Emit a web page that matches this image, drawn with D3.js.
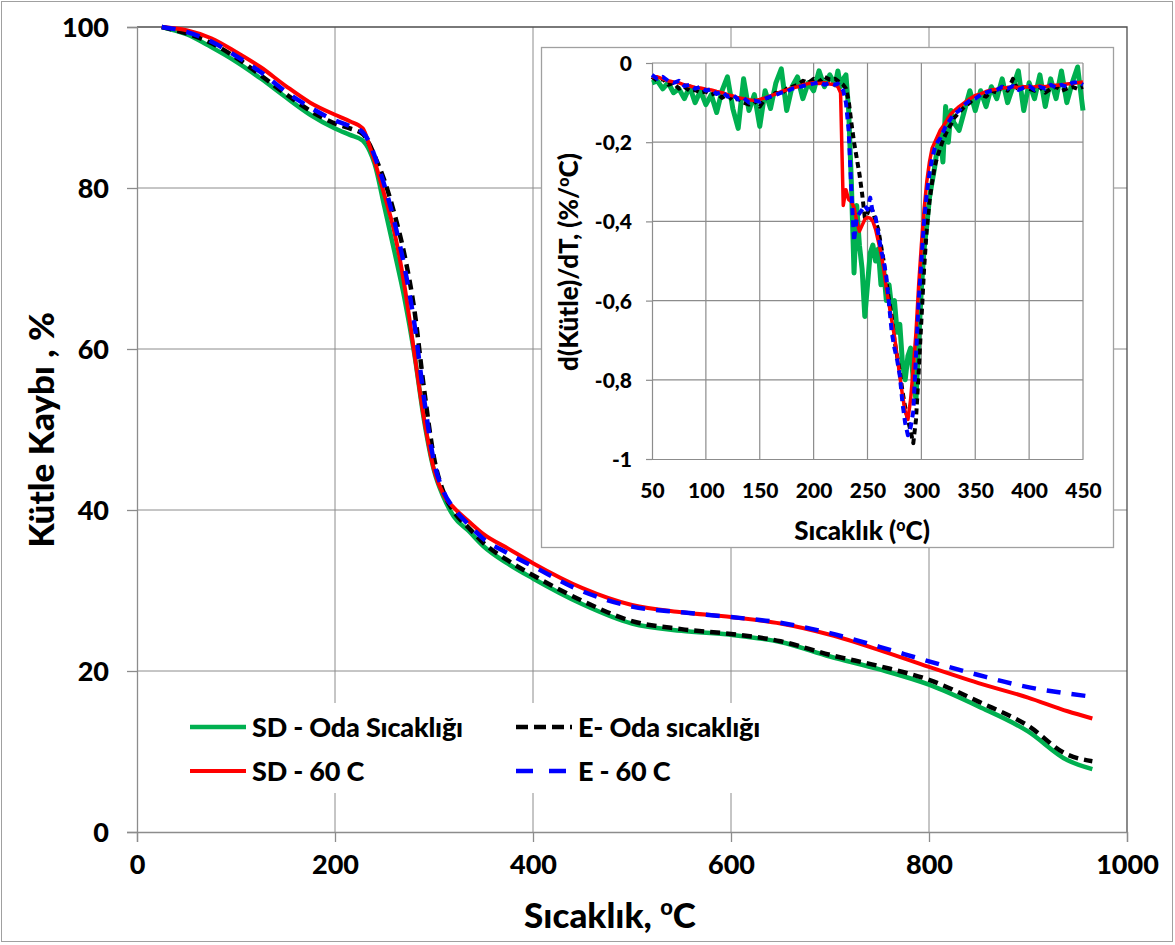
<!DOCTYPE html>
<html>
<head>
<meta charset="utf-8">
<script src="https://cdn.jsdelivr.net/npm/d3@7"></script>
<style>
  body { margin: 0; background: #fff; }
  text { font-family: Lato, "Open Sans", sans-serif; font-weight: 900; fill: #000; }
</style>
</head>
<body>
<svg id="chart" width="1175" height="945"></svg>
<script>
// ---- main chart data (temperature, mass %) ----
const mainTemps = [25, 50, 75, 100, 125, 150, 175, 200, 215, 228, 235, 240, 250, 260, 270, 280, 290, 300,
    310, 320, 335, 350, 375, 400, 450, 500, 550, 600, 650, 700, 750, 800, 850, 900, 940, 965];
const mainSdOda = [100, 99.1, 97.5, 95.7, 93.6, 91.3, 89.1, 87.4, 86.6, 85.9, 84.6, 83.0, 77.6, 72.1, 66.4, 59.5, 51.1, 44.9,
    41.5, 39.2, 37.4, 35.5, 33.3, 31.5, 28.3, 25.9, 25.0, 24.5, 23.6, 21.8, 20.2, 18.3, 15.6, 12.5, 8.9, 7.8];
const mainEOda = [100, 99.2, 98.0, 96.2, 94.0, 91.7, 89.6, 88.0, 87.4, 86.7, 85.4, 84.0, 80.9, 76.8, 71.8, 65.0, 55.0, 46.5,
    42.1, 39.8, 37.8, 35.9, 33.7, 31.9, 28.7, 26.2, 25.2, 24.6, 23.7, 22.0, 20.6, 18.9, 16.2, 13.2, 9.6, 8.8];
const mainSd60 = [100, 99.6, 98.6, 96.9, 95.0, 92.7, 90.6, 89.1, 88.3, 87.4, 85.2, 83.3, 79.1, 74.5, 68.0, 59.6, 51.3, 45.0,
    41.8, 40.3, 38.6, 37.0, 35.2, 33.4, 30.3, 28.2, 27.3, 26.7, 25.9, 24.5, 22.6, 20.5, 18.5, 16.7, 15.0, 14.1];
const mainE60 = [100, 99.4, 98.2, 96.4, 94.4, 92.0, 90.0, 88.4, 87.7, 86.9, 85.6, 84.0, 80.3, 75.8, 70.3, 63.3, 53.8, 46.0,
    42.2, 40.2, 38.2, 36.4, 34.6, 33.0, 29.9, 28.0, 27.3, 26.7, 26.0, 24.7, 23.0, 21.2, 19.5, 18.0, 17.2, 16.8];
const mainXTicks = [0, 200, 400, 600, 800, 1000];
const mainYTicks = [0, 20, 40, 60, 80, 100];

// ---- inset data (temperature, d(mass)/dT) ----
const insetTemps = [
    50, 55, 60, 65, 70, 75, 80, 85, 90, 95, 100, 105, 110, 115, 120, 125, 130, 135, 140, 145, 150, 155, 160, 165, 170,
    175, 180, 185, 190, 195, 200, 205, 210, 215, 220,
    222.5, 225, 227.5, 230, 232.5, 235, 237.5, 240, 242.5, 245, 247.5, 250, 252.5, 255, 257.5, 260, 262.5, 265, 267.5, 270,
    272.5, 275, 277.5, 280, 282.5, 285, 287.5, 290, 292.5, 295, 297.5, 300, 302.5, 305, 307.5, 310, 312.5, 315, 317.5, 320,
    322.5, 325, 327.5, 330,
    335, 340, 345, 350, 355, 360, 365, 370, 375, 380, 385, 390, 395, 400, 405, 410, 415, 420, 425, 430, 435, 440, 445, 450];
const insetSdOda = [
    -0.050, -0.045, -0.065, -0.050, -0.075, -0.065, -0.090, -0.060, -0.100, -0.070, -0.105, -0.080, -0.125, -0.070, -0.035,
    -0.115, -0.165, -0.040, -0.120, -0.080, -0.160, -0.070, -0.115, -0.050, -0.015, -0.120, -0.060, -0.035, -0.090, -0.050,
    -0.070, -0.020, -0.060, -0.030, -0.055,
    -0.020, -0.060, -0.040, -0.030, -0.120, -0.300, -0.530, -0.360, -0.460, -0.520, -0.640, -0.560, -0.480, -0.460, -0.500,
    -0.470, -0.560, -0.520, -0.600, -0.560, -0.620, -0.600, -0.680, -0.660, -0.760, -0.800, -0.740, -0.720, -0.800, -0.850,
    -0.700, -0.570, -0.470, -0.410, -0.340, -0.300, -0.260, -0.210, -0.180, -0.250, -0.110, -0.200, -0.120, -0.150,
    -0.170, -0.120, -0.070, -0.120, -0.070, -0.110, -0.060, -0.090, -0.040, -0.100, -0.060, -0.020, -0.120, -0.050, -0.090,
    -0.030, -0.110, -0.040, -0.090, -0.020, -0.100, -0.050, -0.010, -0.120];
const insetEOda = [
    -0.035, -0.045, -0.040, -0.055, -0.050, -0.065, -0.060, -0.070, -0.068, -0.075, -0.072, -0.080, -0.075, -0.088, -0.080,
    -0.095, -0.090, -0.100, -0.105, -0.095, -0.110, -0.090, -0.085, -0.075, -0.078, -0.065, -0.060, -0.055, -0.045, -0.050,
    -0.040, -0.048, -0.035, -0.042, -0.040,
    -0.045, -0.050, -0.055, -0.065, -0.095, -0.150, -0.200, -0.240, -0.280, -0.330, -0.390, -0.380, -0.360, -0.375, -0.400,
    -0.420, -0.460, -0.500, -0.550, -0.600, -0.640, -0.700, -0.740, -0.780, -0.830, -0.870, -0.900, -0.930, -0.960, -0.900,
    -0.780, -0.650, -0.520, -0.420, -0.350, -0.300, -0.260, -0.235, -0.215, -0.195, -0.180, -0.165, -0.155, -0.140,
    -0.125, -0.110, -0.100, -0.085, -0.080, -0.085, -0.070, -0.075, -0.060, -0.070, -0.040, -0.070, -0.060, -0.065, -0.070,
    -0.060, -0.075, -0.065, -0.060, -0.070, -0.065, -0.060, -0.065, -0.060];
const insetSd60 = [
    -0.035, -0.035, -0.040, -0.045, -0.048, -0.050, -0.055, -0.058, -0.062, -0.063, -0.066, -0.068, -0.072, -0.075, -0.080,
    -0.083, -0.088, -0.090, -0.093, -0.095, -0.092, -0.088, -0.083, -0.078, -0.072, -0.068, -0.063, -0.060, -0.055, -0.052,
    -0.050, -0.052, -0.050, -0.053, -0.055,
    -0.060, -0.075, -0.360, -0.320, -0.345, -0.350, -0.365, -0.400, -0.425, -0.410, -0.395, -0.390, -0.392, -0.400, -0.420,
    -0.450, -0.480, -0.520, -0.570, -0.610, -0.650, -0.690, -0.740, -0.790, -0.840, -0.880, -0.900, -0.850, -0.770, -0.680,
    -0.560, -0.460, -0.370, -0.300, -0.250, -0.215, -0.200, -0.185, -0.170, -0.160, -0.150, -0.138, -0.128, -0.122,
    -0.110, -0.100, -0.090, -0.082, -0.078, -0.072, -0.068, -0.066, -0.063, -0.062, -0.060, -0.062, -0.060, -0.061, -0.060,
    -0.058, -0.060, -0.057, -0.056, -0.055, -0.053, -0.052, -0.050, -0.048];
const insetE60 = [
    -0.030, -0.040, -0.035, -0.045, -0.050, -0.045, -0.058, -0.055, -0.065, -0.060, -0.070, -0.066, -0.078, -0.072, -0.085,
    -0.080, -0.092, -0.088, -0.100, -0.095, -0.098, -0.090, -0.085, -0.080, -0.075, -0.072, -0.065, -0.062, -0.058, -0.055,
    -0.052, -0.048, -0.055, -0.050, -0.055,
    -0.052, -0.060, -0.070, -0.100, -0.170, -0.320, -0.450, -0.390, -0.380, -0.370, -0.360, -0.370, -0.340, -0.380, -0.390,
    -0.430, -0.470, -0.500, -0.540, -0.610, -0.680, -0.720, -0.750, -0.790, -0.860, -0.910, -0.940, -0.920, -0.880, -0.740,
    -0.600, -0.500, -0.400, -0.330, -0.280, -0.240, -0.215, -0.200, -0.190, -0.175, -0.160, -0.150, -0.140, -0.130,
    -0.120, -0.105, -0.095, -0.090, -0.080, -0.075, -0.070, -0.068, -0.060, -0.065, -0.058, -0.068, -0.062, -0.058, -0.068,
    -0.060, -0.065, -0.055, -0.062, -0.055, -0.060, -0.050, -0.048, -0.055];
const insetXTicks = [50, 100, 150, 200, 250, 300, 350, 400, 450];
const insetYTicks = [0, -0.2, -0.4, -0.6, -0.8, -1];

// series styles, in draw order
const seriesNames = ["SD - Oda Sıcaklığı", "E- Oda sıcaklığı", "SD - 60 C", "E - 60 C"];
const seriesColors = ["#00b050", "#000000", "#ff0000", "#0000ff"];

const GRID = "#8c8c8c";
const svg = d3.select("#chart");

// outer frame
svg.append("rect")
    .attr("x", 1.5).attr("y", 1.5)
    .attr("width", 1171).attr("height", 940)
    .attr("fill", "#fff")
    .attr("stroke", "#a0a0a0");

/**
 * Main mass loss chart
 */
function drawMain() {
    const x = d3.scaleLinear().domain([0, 1000]).range([137, 1127]);
    const y = d3.scaleLinear().domain([0, 100]).range([832, 27]);
    const g = svg.append("g");

    // grid lines
    g.selectAll(".vgrid").data(mainXTicks.slice(1, -1)).enter().append("line")
        .attr("x1", d => x(d)).attr("x2", d => x(d))
        .attr("y1", y(0)).attr("y2", y(100))
        .attr("stroke", GRID).attr("stroke-width", 1);
    g.selectAll(".hgrid").data(mainYTicks.slice(1, -1)).enter().append("line")
        .attr("x1", x(0)).attr("x2", x(1000))
        .attr("y1", d => y(d)).attr("y2", d => y(d))
        .attr("stroke", GRID).attr("stroke-width", 1);

    // top and right border of plot area
    g.append("path")
        .attr("d", `M${x(0)},${y(100)}H${x(1000)}V${y(0)}`)
        .attr("fill", "none").attr("stroke", "#4d4d4d").attr("stroke-width", 1.3);

    // axes
    const xAxis = g.append("g")
        .attr("transform", `translate(0,${y(0)})`)
        .call(d3.axisBottom(x).tickValues(mainXTicks).tickSize(10).tickPadding(13).tickFormat(d3.format("d")));
    const yAxis = g.append("g")
        .attr("transform", `translate(${x(0)},0)`)
        .call(d3.axisLeft(y).tickValues(mainYTicks).tickSize(10).tickPadding(18));
    [xAxis, yAxis].forEach(a => {
        a.select(".domain").attr("stroke", GRID).attr("stroke-width", 1.3);
        a.selectAll(".tick line").attr("stroke", GRID).attr("stroke-width", 1.3);
        a.selectAll("text").style("font-size", "27px").style("font-family", "Lato").style("font-weight", "900");
    });
    yAxis.selectAll("text").attr("dy", "0.36em");

    // curves
    const line = d3.line()
        .x((d, i) => x(mainTemps[i]))
        .y(d => y(d))
        .curve(d3.curveMonotoneX);
    const mainSeries = [mainSdOda, mainEOda, mainSd60, mainE60];
    const widths = [4.5, 4.5, 4, 4.5];
    const dashes = [null, "10,6", null, "14,11"];
    mainSeries.forEach((vals, k) => {
        g.append("path")
            .attr("d", line(vals))
            .attr("fill", "none")
            .attr("stroke", seriesColors[k])
            .attr("stroke-width", widths[k])
            .attr("stroke-dasharray", dashes[k])
            .attr("stroke-linejoin", "round");
    });

    // legend (white box over the grid)
    const leg = g.append("g");
    leg.append("rect")
        .attr("x", 178).attr("y", 703).attr("width", 610).attr("height", 90)
        .attr("fill", "#fff");
    const legPos = [[190, 727], [516, 727], [190, 771], [516, 771]];
    seriesNames.forEach((name, k) => {
        const [lx, ly] = legPos[k];
        leg.append("line")
            .attr("x1", lx).attr("x2", lx + 56)
            .attr("y1", ly).attr("y2", ly)
            .attr("stroke", seriesColors[k])
            .attr("stroke-width", widths[k])
            .attr("stroke-dasharray", k === 1 ? "12,6" : k === 3 ? "17,16" : null);
        leg.append("text")
            .attr("x", lx + 62).attr("y", ly)
            .attr("dy", "0.36em")
            .style("font-size", "27px")
            .style("letter-spacing", "-0.2px")
            .text(name);
    });

    // axis titles
    svg.append("text")
        .attr("transform", "translate(54,430) rotate(-90)")
        .attr("text-anchor", "middle")
        .style("font-size", "35px")
        .text("Kütle Kaybı , %");
    const xt = svg.append("text")
        .attr("x", 610).attr("y", 928)
        .attr("text-anchor", "middle")
        .style("font-size", "35px");
    xt.append("tspan").text("Sıcaklık,  ");
    xt.append("tspan").attr("dy", -13).style("font-size", "22px").text("o");
    xt.append("tspan").attr("dy", 13).text("C");
}

/**
 * Inset derivative chart
 */
function drawInset() {
    const x = d3.scaleLinear().domain([50, 450]).range([652, 1083]);
    const y = d3.scaleLinear().domain([-1, 0]).range([459, 63]);
    const g = svg.append("g");

    g.append("rect")
        .attr("x", 541.5).attr("y", 47.5).attr("width", 572).attr("height", 500)
        .attr("fill", "#fff").attr("stroke", "#a0a0a0").attr("stroke-width", 1.3);

    // grid incl. top/right borders
    g.selectAll(".vgrid").data(insetXTicks.slice(1)).enter().append("line")
        .attr("x1", d => x(d)).attr("x2", d => x(d))
        .attr("y1", y(-1)).attr("y2", y(0))
        .attr("stroke", GRID).attr("stroke-width", 1.2);
    g.selectAll(".hgrid").data(insetYTicks.slice(0, -1)).enter().append("line")
        .attr("x1", x(50)).attr("x2", x(450))
        .attr("y1", d => y(d)).attr("y2", d => y(d))
        .attr("stroke", GRID).attr("stroke-width", 1.2);

    const xAxis = g.append("g")
        .attr("transform", `translate(0,${y(-1)})`)
        .call(d3.axisBottom(x).tickValues(insetXTicks).tickSize(0).tickPadding(24));
    const yAxis = g.append("g")
        .attr("transform", `translate(${x(50)},0)`)
        .call(d3.axisLeft(y).tickValues(insetYTicks).tickSize(6).tickPadding(14)
            .tickFormat(d => d === 0 ? "0" : d === -1 ? "-1" : d3.format(".1f")(d).replace(".", ",").replace("−", "-")));
    [xAxis, yAxis].forEach(a => {
        a.select(".domain").attr("stroke", GRID).attr("stroke-width", 1.2);
        a.selectAll(".tick line").attr("stroke", GRID).attr("stroke-width", 1.2);
        a.selectAll("text").style("font-size", "21px").style("font-family", "Lato").style("font-weight", "900");
    });
    yAxis.selectAll("text").attr("dy", "0.36em");

    const line = d3.line()
        .x((d, i) => x(insetTemps[i]))
        .y(d => y(d));
    const insetSeries = [insetSdOda, insetEOda, insetSd60, insetE60];
    const widths = [5, 4, 3.5, 4];
    const dashes = [null, "6,4", null, "7,5"];
    insetSeries.forEach((vals, k) => {
        g.append("path")
            .attr("d", line(vals))
            .attr("fill", "none")
            .attr("stroke", seriesColors[k])
            .attr("stroke-width", widths[k])
            .attr("stroke-dasharray", dashes[k])
            .attr("stroke-linejoin", "round");
    });

    // inset titles
    const xt = g.append("text")
        .attr("x", 862).attr("y", 540)
        .attr("text-anchor", "middle")
        .style("font-size", "26px");
    xt.append("tspan").text("Sıcaklık (");
    xt.append("tspan").attr("dy", -9).style("font-size", "16px").text("o");
    xt.append("tspan").attr("dy", 9).text("C)");

    const yt = g.append("text")
        .attr("transform", "translate(578,262) rotate(-90)")
        .attr("text-anchor", "middle")
        .style("font-size", "26px");
    yt.append("tspan").text("d(Kütle)/dT, (%/");
    yt.append("tspan").attr("dy", -9).style("font-size", "16px").text("o");
    yt.append("tspan").attr("dy", 9).text("C)");
}

drawMain();
drawInset();
</script>
</body>
</html>
